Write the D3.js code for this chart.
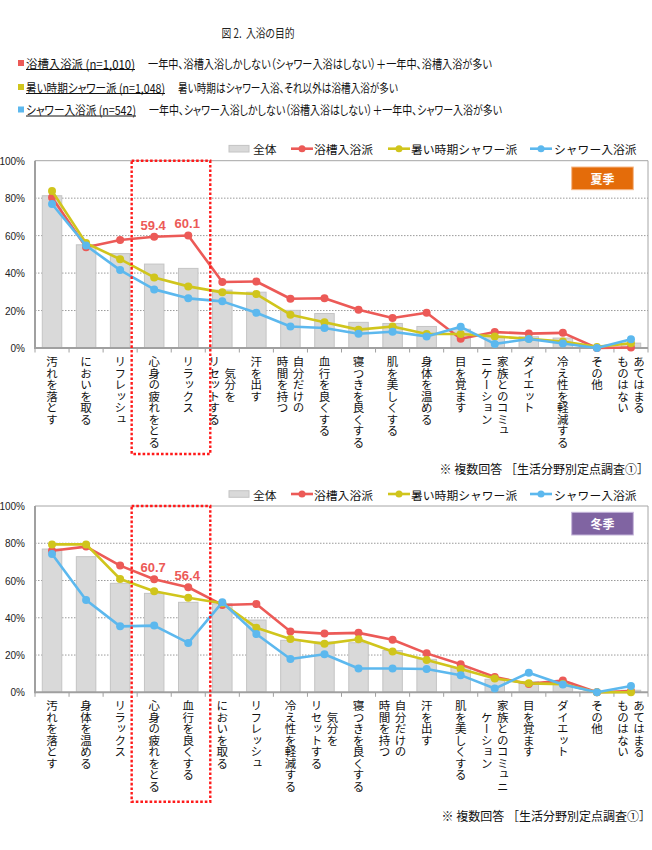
<!DOCTYPE html>
<html><head><meta charset="utf-8">
<script src="https://cdn.jsdelivr.net/npm/d3@7"></script>
<style>
body{margin:0;background:#fff;}
svg{display:block;font-family:"Noto Sans CJK JP","Noto Sans",sans-serif;}
</style></head><body>
<svg id="chart" width="652" height="850"></svg>
<script>
// ---------- data ----------
const titleText = "図 2.\u00A0\u00A0入浴の目的";
const groupNames = ["浴槽入浴派 (n=1,010)", "暑い時期シャワー派 (n=1,048)", "シャワー入浴派 (n=542)"];
const groupDescs = [
  "一年中、浴槽入浴しかしない（シャワー入浴はしない）＋一年中、浴槽入浴が多い",
  "暑い時期はシャワー入浴、それ以外は浴槽入浴が多い",
  "一年中、シャワー入浴しかしない（浴槽入浴はしない）＋一年中、シャワー入浴が多い"
];
const seriesNames = ["全体", "浴槽入浴派", "暑い時期シャワー派", "シャワー入浴派"];
const yTicks = [0, 20, 40, 60, 80, 100];
const noteText = "※ 複数回答 ［生活分野別定点調査①］";

const summerLabel = "夏季";
const summerCategories = ["汚れを落とす","においを取る","リフレッシュ","心身の疲れをとる","リラックス","気分を\nリセットする","汗を出す","自分だけの\n時間を持つ","血行を良くする","寝つきを良くする","肌を美しくする","身体を温める","目を覚ます","家族とのコミュ\nニケーション","ダイエット","冷え性を軽減する","その他","あてはまる\nものはない"];
const summerTotal   = [81.3, 55.1, 50.4, 44.8, 42.5, 30.9, 29.8, 20.1, 18.4, 13.7, 13.1, 11.5, 10.0, 6.2, 6.0, 5.3, 0.4, 2.6];
const summerBath    = [80.3, 53.8, 57.7, 59.4, 60.1, 35.2, 35.5, 26.3, 26.6, 20.4, 16.0, 18.8, 4.9, 8.5, 7.7, 8.1, 0.0, 0.3];
const summerHot     = [83.8, 56.0, 47.4, 37.7, 32.9, 29.7, 28.8, 17.8, 13.7, 9.8, 11.5, 7.5, 7.5, 6.2, 4.9, 3.5, 0.6, 2.5];
const summerShower  = [76.9, 54.7, 41.6, 31.3, 26.5, 24.9, 18.8, 11.5, 10.7, 7.6, 8.7, 6.2, 11.3, 2.2, 4.8, 2.4, 0.0, 4.7];
const summerHighlight = [3, 4];

const winterLabel = "冬季";
const winterCategories = ["汚れを落とす","身体を温める","リラックス","心身の疲れをとる","血行を良くする","においを取る","リフレッシュ","冷え性を軽減する","気分を\nリセットする","寝つきを良くする","自分だけの\n時間を持つ","汗を出す","肌を美しくする","家族とのコミュニ\nケーション","目を覚ます","ダイエット","その他","あてはまる\nものはない"];
const winterTotal   = [76.9, 72.8, 58.5, 53.1, 48.3, 47.5, 38.8, 27.9, 27.0, 26.6, 22.4, 17.7, 13.4, 7.0, 5.7, 4.9, 0.3, 1.1];
const winterBath    = [76.0, 78.2, 68.0, 60.7, 56.4, 46.9, 47.4, 32.6, 31.5, 31.9, 28.2, 20.9, 15.0, 8.2, 4.5, 6.3, 0.0, 0.7];
const winterHot     = [79.4, 79.4, 60.8, 54.2, 50.8, 47.8, 34.7, 28.6, 26.0, 28.5, 21.9, 17.3, 12.5, 7.4, 4.8, 4.4, 0.0, 0.0];
const winterShower  = [74.2, 49.5, 35.4, 35.8, 26.5, 48.3, 31.3, 17.9, 20.4, 12.8, 12.8, 12.5, 9.2, 2.0, 10.5, 4.2, 0.0, 3.4];
const winterHighlight = [3, 4];

// ---------- styles ----------
const colors = { total: "#D9D9D9", totalStroke: "#C4C4C4", bath: "#EC5A57", hot: "#D0C51C", shower: "#5CB8EE" };
const groupColors = [colors.bath, colors.hot, colors.shower];
const svg = d3.select("#chart");

// ---------- header ----------
svg.append("text").attr("x", 258).attr("y", 32.5).attr("text-anchor", "middle")
  .attr("dominant-baseline", "central").attr("font-size", 12.5).attr("fill", "#222")
  .style("font-feature-settings", "'palt'")
  .attr("textLength", 73).attr("lengthAdjust", "spacingAndGlyphs").text(titleText);

const headerY = [63, 87, 109.5];
const nameW = [109, 139, 110];
const descX = [148, 178, 149];
const descW = [344, 220, 353];
groupNames.forEach((n, i) => {
  const y = headerY[i];
  svg.append("rect").attr("x", 18).attr("y", y - 3).attr("width", 6).attr("height", 6).attr("fill", groupColors[i]);
  svg.append("text").attr("x", 26).attr("y", y).attr("dominant-baseline", "central")
    .attr("font-size", 12.5).attr("fill", "#111").style("font-feature-settings", "'palt'")
    .attr("textLength", nameW[i]).attr("lengthAdjust", "spacingAndGlyphs").text(n);
  svg.append("line").attr("x1", 26).attr("x2", 26 + nameW[i]).attr("y1", y + 6.5).attr("y2", y + 6.5)
    .attr("stroke", "#111").attr("stroke-width", 1);
  svg.append("text").attr("x", descX[i]).attr("y", y).attr("dominant-baseline", "central")
    .attr("font-size", 12.5).attr("fill", "#111").style("font-feature-settings", "'palt'")
    .attr("textLength", descW[i]).attr("lengthAdjust", "spacingAndGlyphs").text(groupDescs[i]);
});

// ---------- chart ----------
function drawChart(cfg) {
  const left = 35, right = 648;
  const n = cfg.categories.length;
  const x = d3.scaleBand().domain(d3.range(n)).range([left, right]);
  const y = d3.scaleLinear().domain([0, 100]).range([cfg.y0, cfg.y100]);
  const bw = x.bandwidth();
  const cx = i => x(i) + bw / 2;
  const g = svg.append("g");

  // grid
  g.selectAll(".grid").data(yTicks.filter(t => t > 0 && t < 100)).join("line")
    .attr("x1", left).attr("x2", right).attr("y1", d => y(d)).attr("y2", d => y(d))
    .attr("stroke", "#9A9A9A").attr("stroke-width", 1).attr("stroke-dasharray", "1.5,1.5");
  g.append("line").attr("x1", left).attr("x2", right).attr("y1", y(100)).attr("y2", y(100))
    .attr("stroke", "#A6A6A6").attr("stroke-width", 1);
  g.append("line").attr("x1", right).attr("x2", right).attr("y1", y(100)).attr("y2", y(0))
    .attr("stroke", "#A6A6A6").attr("stroke-width", 1);

  // y labels
  const ax = g.append("g").attr("transform", `translate(${left - 10},0)`)
    .call(d3.axisLeft(y).tickValues(yTicks).tickFormat(d => d + "%").tickSize(0));
  ax.select(".domain").remove();
  ax.selectAll("text").attr("font-family", "'Liberation Sans', Arial, sans-serif")
    .attr("font-size", 10).attr("fill", "#222").attr("x", 0).attr("dy", "0.35em");

  // bars
  const barW = 19.5;
  g.selectAll(".bar").data(cfg.total).join("rect")
    .attr("x", (d, i) => cx(i) - barW / 2).attr("width", barW)
    .attr("y", d => y(d)).attr("height", d => y(0) - y(d))
    .attr("fill", colors.total).attr("stroke", colors.totalStroke).attr("stroke-width", 1);

  // axes lines
  g.append("line").attr("x1", left).attr("x2", right).attr("y1", y(0)).attr("y2", y(0))
    .attr("stroke", "#A0A0A0").attr("stroke-width", 2);
  g.append("line").attr("x1", left).attr("x2", left).attr("y1", y(100)).attr("y2", y(0) + 1)
    .attr("stroke", "#A0A0A0").attr("stroke-width", 2);
  g.selectAll(".tick-b").data(d3.range(n + 1)).join("line")
    .attr("x1", i => left + i * bw).attr("x2", i => left + i * bw)
    .attr("y1", y(0)).attr("y2", y(0) + 4.5).attr("stroke", "#A0A0A0").attr("stroke-width", 1);

  // lines
  const series = [[cfg.bath, colors.bath], [cfg.hot, colors.hot], [cfg.shower, colors.shower]];
  const lineGen = d3.line().x((d, i) => cx(i)).y(d => y(d));
  series.forEach(([vals, col]) => {
    g.append("path").datum(vals).attr("d", lineGen).attr("fill", "none")
      .attr("stroke", col).attr("stroke-width", 2.6).attr("stroke-linejoin", "round");
    g.selectAll(null).data(vals).join("circle")
      .attr("cx", (d, i) => cx(i)).attr("cy", d => y(d)).attr("r", 4).attr("fill", col);
  });

  // highlight value labels
  cfg.highlight.forEach(i => {
    g.append("text").attr("x", cx(i) - 1).attr("y", y(cfg.bath[i]) - 11.5)
      .attr("text-anchor", "middle").attr("dominant-baseline", "central")
      .attr("font-family", "'Liberation Sans', Arial, sans-serif").attr("font-weight", "bold")
      .attr("font-size", 13).attr("fill", colors.bath).text(d3.format(".1f")(cfg.bath[i]));
  });

  // category labels (vertical)
  const fs = 11.5;
  cfg.categories.forEach((lab, i) => {
    const lines = lab.split("\n");
    const maxLen = d3.max(lines, l => l.length);
    lines.forEach((l, j) => {
      const off = lines.length === 1 ? 0 : (j === 0 ? 8 : -8);
      const dyc = Math.floor((maxLen - l.length) / 2) * fs;
      g.append("text").attr("x", cx(i) + off).attr("y", y(0) + 8 + dyc)
        .style("writing-mode", "vertical-rl").attr("font-size", fs).attr("fill", "#111").text(l);
    });
  });

  // legend
  const ly = y(100) - 12;
  g.append("rect").attr("x", 229).attr("y", ly - 3.3).attr("width", 20).attr("height", 6.6)
    .attr("fill", colors.total).attr("stroke", colors.totalStroke);
  const legX = [253, 314, 411, 554];
  const legLine = [null, 291, 388, 530];
  const legCols = [null, colors.bath, colors.hot, colors.shower];
  seriesNames.forEach((s, k) => {
    if (k > 0) {
      g.append("line").attr("x1", legLine[k]).attr("x2", legLine[k] + 22).attr("y1", ly).attr("y2", ly)
        .attr("stroke", legCols[k]).attr("stroke-width", 2.6);
      g.append("circle").attr("cx", legLine[k] + 11).attr("cy", ly).attr("r", 3.5).attr("fill", legCols[k]);
    }
    g.append("text").attr("x", legX[k]).attr("y", ly).attr("dominant-baseline", "central")
      .attr("font-size", 11.8).attr("fill", "#111").text(s);
  });

  // season box
  g.append("rect").attr("x", right - 76.3).attr("y", y(100) + 6.3).attr("width", 61.6).attr("height", 22.7)
    .attr("fill", cfg.seasonColor).attr("stroke", cfg.seasonStroke).attr("stroke-width", 1);
  g.append("text").attr("x", right - 76.3 + 30.8).attr("y", y(100) + 6.3 + 11.5)
    .attr("text-anchor", "middle").attr("dominant-baseline", "central")
    .attr("font-size", 12).attr("font-weight", "bold").attr("fill", "#fff").text(cfg.season);

  // highlight box
  const h0 = d3.min(cfg.highlight), h1 = d3.max(cfg.highlight);
  g.append("rect").attr("x", x(h0) - 5.5).attr("y", y(100))
    .attr("width", x(h1) + bw - x(h0) + 10.5).attr("height", cfg.boxBottom - y(100))
    .attr("fill", "none").attr("stroke", "#FF1A1A").attr("stroke-width", 2.4).attr("stroke-dasharray", "2.6,2");

  // note
  g.append("text").attr("x", cfg.noteX).attr("y", cfg.noteY).attr("text-anchor", "end")
    .attr("dominant-baseline", "central").attr("font-size", 12).attr("fill", "#111").text(noteText);
}

drawChart({ categories: summerCategories, total: summerTotal, bath: summerBath, hot: summerHot, shower: summerShower,
  highlight: summerHighlight, y100: 160.7, y0: 348, boxBottom: 454, season: summerLabel,
  seasonColor: "#E46C0A", seasonStroke: "#F6B98A", noteX: 649, noteY: 468 });
drawChart({ categories: winterCategories, total: winterTotal, bath: winterBath, hot: winterHot, shower: winterShower,
  highlight: winterHighlight, y100: 506, y0: 692.3, boxBottom: 801.7, season: winterLabel,
  seasonColor: "#8064A2", seasonStroke: "#C5B6DA", noteX: 651, noteY: 815 });
</script></body></html>
